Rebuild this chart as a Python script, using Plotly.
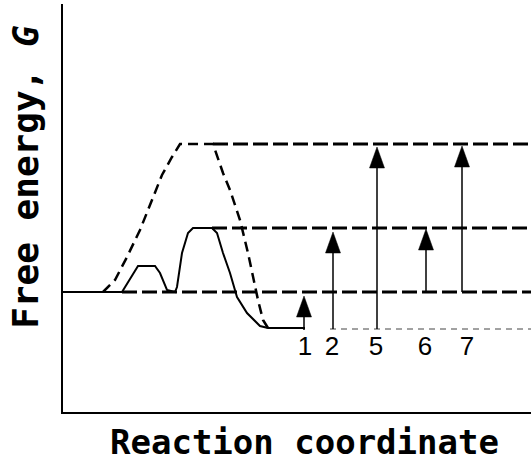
import numpy as np
import plotly.graph_objects as go

# ---- data (reaction coordinate units, free energy units; baseline = reactants = 0) ----
# catalysed pathway (solid)
cat_x = [0, 5.9, 6.7, 7.5, 9.2, 9.7, 10.4, 11.2, 11.4, 11.9, 12.5, 13.0, 14.9, 15.4,
         16.0, 16.7, 17.4, 18.4, 19.7, 20.5, 24.2]
cat_g = [0, 0, 1.3, 2.6, 2.6, 1.9, 0.2, 0, 0.5, 3.9, 5.9, 6.4, 6.4, 5.9,
         3.9, 1.9, -0.5, -2.1, -3.4, -3.6, -3.6]
# uncatalysed pathway (dashed)
unc_x = [4.0, 5.2, 6.4, 7.7, 8.9, 9.9, 10.9, 11.7, 15.0, 16.0, 16.7, 17.7, 18.5,
         18.9, 19.5, 20.0, 20.5]
unc_g = [0, 1.2, 3.5, 6.2, 9.2, 11.7, 13.5, 14.8, 14.8, 11.9, 10.2, 7.2, 3.9,
         1.9, -0.8, -2.8, -3.6]
# reference energy levels (dashed)
level_g = [14.8, 6.4, 0.0]
level_x0 = [15.0, 14.9, 5.9]
product_g = -3.7
product_x0 = 26.7
x_max = 46.8
# arrows
arrow_labels = ["1", "2", "5", "6", "7"]
arrow_x = [24.1, 27.0, 31.4, 36.3, 39.9]
label_x = [24.2, 26.9, 31.3, 36.2, 40.4]
arrow_from = [-3.8, -3.7, -3.7, 0.0, 0.0]
arrow_to = [-0.4, 6.0, 14.5, 6.3, 14.6]
label_g = -5.6

fig = go.Figure()

# level lines
for g, x0 in zip(level_g, level_x0):
    fig.add_trace(go.Scatter(x=[x0, x_max], y=[g, g], mode="lines",
                             line=dict(color="black", width=3, dash="15px,5px"),
                             hoverinfo="skip", showlegend=False))
fig.add_trace(go.Scatter(x=[product_x0, x_max], y=[product_g, product_g], mode="lines",
                         line=dict(color="#444444", width=1, dash="6px,5px"),
                         hoverinfo="skip", showlegend=False))

# pathways
fig.add_trace(go.Scatter(x=unc_x, y=unc_g, mode="lines",
                         line=dict(color="black", width=2.5, dash="10px,6px"),
                         hoverinfo="skip", showlegend=False))
fig.add_trace(go.Scatter(x=cat_x, y=cat_g, mode="lines",
                         line=dict(color="black", width=2),
                         hoverinfo="skip", showlegend=False))

# arrows
head_len = 2.1
head_half = 0.75
for x, g0, g1 in zip(arrow_x, arrow_from, arrow_to):
    fig.add_trace(go.Scatter(x=[x, x], y=[g0, g1 - head_len * 0.5], mode="lines",
                             line=dict(color="black", width=1.5),
                             hoverinfo="skip", showlegend=False))
    tx = np.array([x - head_half, x, x + head_half, x - head_half])
    ty = np.array([g1 - head_len, g1, g1 - head_len, g1 - head_len])
    fig.add_trace(go.Scatter(x=tx, y=ty, mode="lines", fill="toself",
                             fillcolor="black", line=dict(color="black", width=0.5),
                             hoverinfo="skip", showlegend=False))

fig.add_trace(go.Scatter(x=label_x, y=[label_g] * len(label_x), mode="text",
                         text=arrow_labels,
                         textfont=dict(family="Liberation Sans", size=26, color="black"),
                         hoverinfo="skip", showlegend=False))

fig.update_layout(
    width=531, height=463,
    margin=dict(l=63, r=0, t=4, b=51),
    paper_bgcolor="white", plot_bgcolor="white",
    xaxis=dict(range=[0, x_max], showgrid=False, zeroline=False, showticklabels=False,
               ticks="", showline=True, linecolor="black", linewidth=2, fixedrange=True),
    yaxis=dict(range=[-12.0, 28.8], showgrid=False, zeroline=False, showticklabels=False,
               ticks="", showline=True, linecolor="black", linewidth=2, fixedrange=True),
    annotations=[
        dict(text="<b>Reaction coordinate</b>", xref="paper", yref="paper",
             x=0.515, y=-0.0735, xanchor="center", yanchor="middle", showarrow=False,
             font=dict(family="DejaVu Sans Mono", size=34, color="black")),
        dict(text="<b>Free energy, <i>G</i></b>", xref="paper", yref="paper",
             x=-0.079, y=0.574, xanchor="center", yanchor="middle", showarrow=False,
             textangle=-90,
             font=dict(family="DejaVu Sans Mono", size=36, color="black")),
    ],
)

fig.write_html(
    "out.html",
    config={"displayModeBar": False},
    post_script="document.body.style.margin='0';document.body.style.padding='0';"
                "document.body.style.overflow='hidden';",
)
